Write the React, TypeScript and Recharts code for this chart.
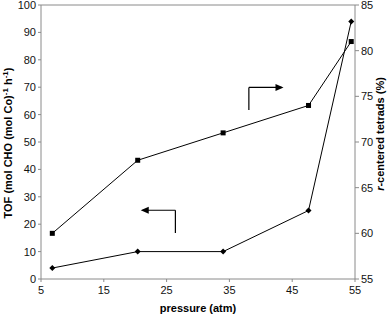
import React from "react";
import {
  ComposedChart,
  Line,
  XAxis,
  YAxis,
  ReferenceLine,
  ReferenceDot,
} from "recharts";

const pressures = [6.8, 20.4, 34.0, 47.6, 54.4];
const tofValues = [4, 10, 10, 25, 94];
const rCenteredValues = [60, 68, 71, 74, 81];
const xTicks = [5, 15, 25, 35, 45, 55];
const leftTicks = [0, 10, 20, 30, 40, 50, 60, 70, 80, 90, 100];
const rightTicks = [55, 60, 65, 70, 75, 80, 85];

// annotation arrows (data coordinates on x / left axis)
const rightArrow = { x: 38.1, y0: 61.7, y1: 69.9, x1: 43.3 };
const leftArrow = { x: 26.4, y0: 16.8, y1: 25.1, x1: 21.2 };

const data = pressures.map((p, i) => ({
  p,
  tof: tofValues[i],
  rc: rCenteredValues[i],
}));

const FONT = "'Liberation Sans', Arial, sans-serif";
const AXIS = "#8a8a8a";

const Diamond = (props: any) => {
  const { cx, cy } = props;
  if (cx == null || cy == null) return null;
  const r = 3;
  return (
    <polygon
      points={`${cx},${cy - r} ${cx + r},${cy} ${cx},${cy + r} ${cx - r},${cy}`}
      fill="#000"
    />
  );
};

const Square = (props: any) => {
  const { cx, cy } = props;
  if (cx == null || cy == null) return null;
  return <rect x={cx - 2.5} y={cy - 2.5} width={5} height={5} fill="#000" />;
};

const ArrowRight = (props: any) => {
  const { cx, cy } = props;
  if (cx == null) return null;
  return (
    <polygon points={`${cx + 2},${cy} ${cx - 6},${cy - 3.5} ${cx - 6},${cy + 3.5}`} fill="#000" />
  );
};
const ArrowLeft = (props: any) => {
  const { cx, cy } = props;
  if (cx == null) return null;
  return (
    <polygon points={`${cx - 2},${cy} ${cx + 6},${cy - 3.5} ${cx + 6},${cy + 3.5}`} fill="#000" />
  );
};

const LeftLabel = () => (
  <text
    x={12}
    y={143}
    transform="rotate(-90, 12, 143)"
    textAnchor="middle"
    fontFamily={FONT}
    fontSize={11}
    fontWeight="bold"
    fill="#000"
  >
    <tspan>TOF (mol CHO (mol Co)</tspan>
    <tspan fontSize={8} dy={-4}>-1</tspan>
    <tspan dy={4}> h</tspan>
    <tspan fontSize={8} dy={-4}>-1</tspan>
    <tspan dy={4}>)</tspan>
  </text>
);

const RightLabel = () => (
  <text
    x={384}
    y={134}
    transform="rotate(-90, 384, 134)"
    textAnchor="middle"
    fontFamily={FONT}
    fontSize={11}
    fontWeight="bold"
    fill="#000"
  >
    <tspan fontStyle="italic">r</tspan>
    <tspan>-centered tetrads (%)</tspan>
  </text>
);

export default function App() {
  return (
    <div style={{ position: "absolute", left: 0, top: 0, background: "#fff" }}>
      <ComposedChart
        width={392}
        height={314}
        data={data}
        margin={{ top: 5, right: 0, left: 0, bottom: 0 }}
      >
        <XAxis
          dataKey="p"
          type="number"
          domain={[5, 55]}
          ticks={xTicks}
          allowDataOverflow
          height={35}
          stroke={AXIS}
          tickSize={3}
          tick={{ fill: "#111", fontSize: 11, fontFamily: FONT, dy: 2 }}
          label={{
            value: "pressure (atm)",
            position: "insideBottom",
            offset: 2,
            style: { fontFamily: FONT, fontSize: 11, fontWeight: "bold", fill: "#000" },
          }}
        />
        <YAxis
          yAxisId="left"
          domain={[0, 100]}
          ticks={leftTicks}
          width={41}
          stroke={AXIS}
          tickSize={3}
          interval={0}
          tick={{ fill: "#111", fontSize: 11, fontFamily: FONT }}
          label={<LeftLabel />}
        />
        <YAxis
          yAxisId="right"
          orientation="right"
          domain={[55, 85]}
          ticks={rightTicks}
          width={37}
          stroke={AXIS}
          tickSize={4}
          interval={0}
          tick={{ fill: "#111", fontSize: 11, fontFamily: FONT }}
          label={<RightLabel />}
        />
        <ReferenceLine yAxisId="left" y={100} stroke={AXIS} />
        <Line
          yAxisId="right"
          dataKey="rc"
          stroke="#000"
          strokeWidth={1}
          dot={<Square />}
          activeDot={false}
          isAnimationActive={false}
        />
        <Line
          yAxisId="left"
          dataKey="tof"
          stroke="#000"
          strokeWidth={1}
          dot={<Diamond />}
          activeDot={false}
          isAnimationActive={false}
        />
        <ReferenceLine
          yAxisId="left"
          stroke="#000"
          strokeWidth={1.2}
          segment={[
            { x: rightArrow.x, y: rightArrow.y0 },
            { x: rightArrow.x, y: rightArrow.y1 },
          ]}
        />
        <ReferenceLine
          yAxisId="left"
          stroke="#000"
          strokeWidth={1.2}
          segment={[
            { x: rightArrow.x, y: rightArrow.y1 },
            { x: rightArrow.x1, y: rightArrow.y1 },
          ]}
        />
        <ReferenceDot
          yAxisId="left"
          x={rightArrow.x1}
          y={rightArrow.y1}
          shape={<ArrowRight />}
        />
        <ReferenceLine
          yAxisId="left"
          stroke="#000"
          strokeWidth={1.2}
          segment={[
            { x: leftArrow.x, y: leftArrow.y0 },
            { x: leftArrow.x, y: leftArrow.y1 },
          ]}
        />
        <ReferenceLine
          yAxisId="left"
          stroke="#000"
          strokeWidth={1.2}
          segment={[
            { x: leftArrow.x, y: leftArrow.y1 },
            { x: leftArrow.x1, y: leftArrow.y1 },
          ]}
        />
        <ReferenceDot
          yAxisId="left"
          x={leftArrow.x1}
          y={leftArrow.y1}
          shape={<ArrowLeft />}
        />
      </ComposedChart>
    </div>
  );
}
